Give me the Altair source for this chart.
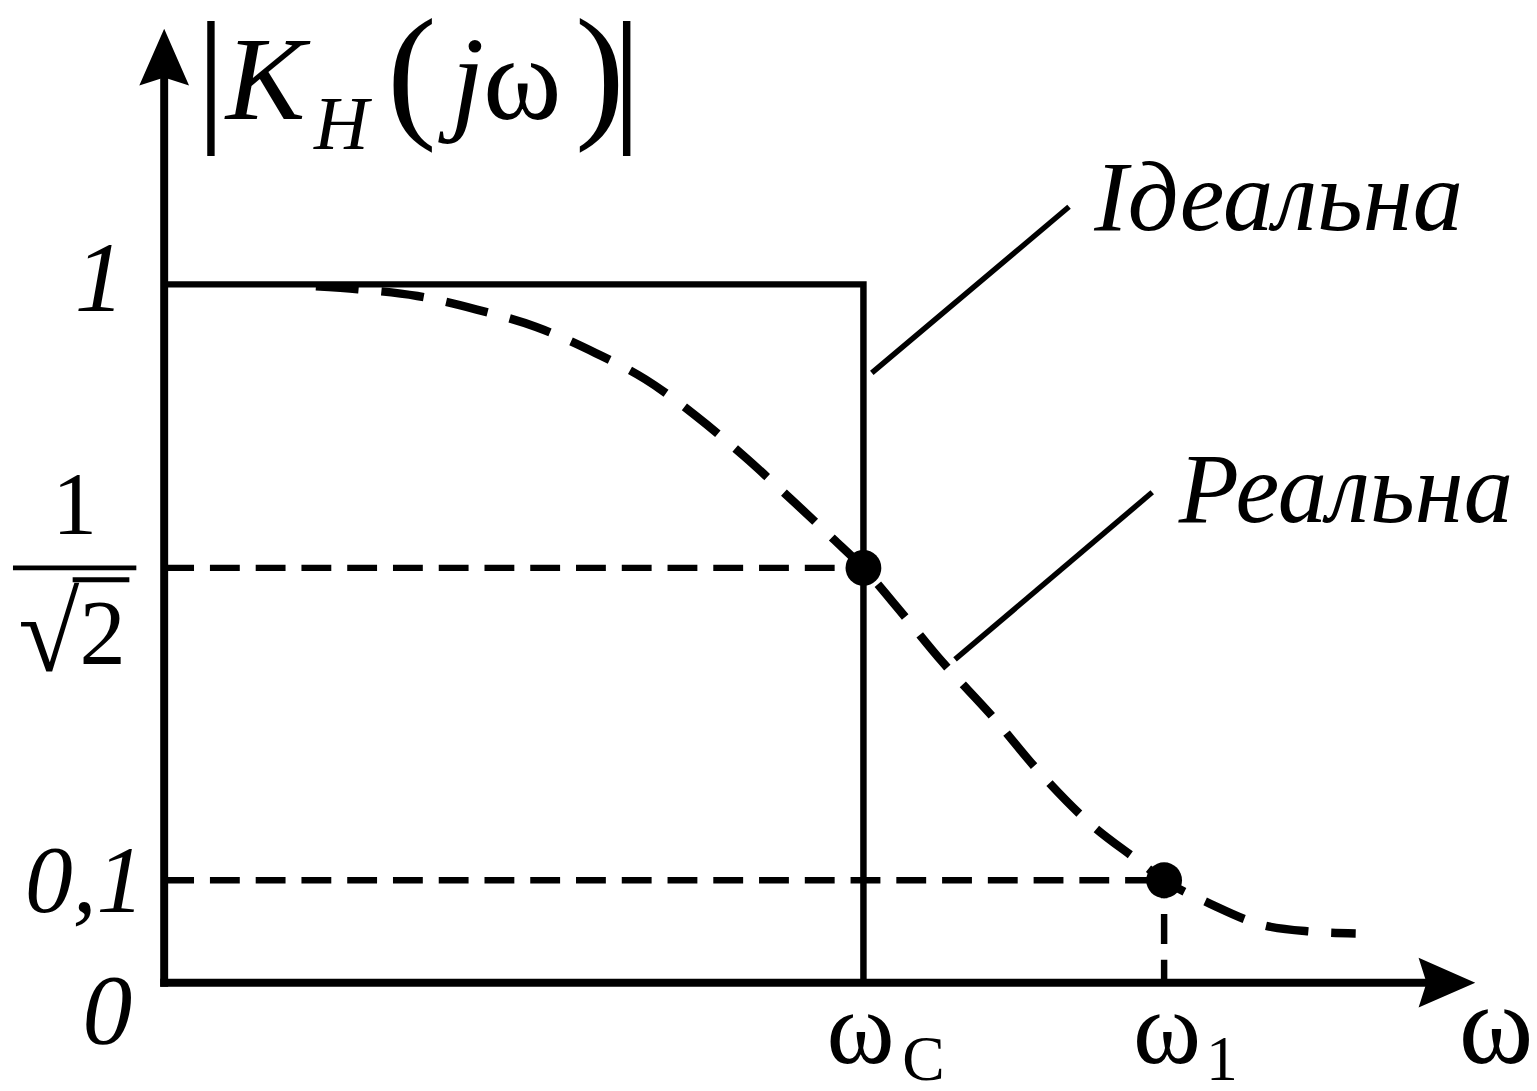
import altair as alt
import pandas as pd

# ---------------- data ----------------
# frequency axis in units of the cut-off frequency (omega_c = 1)
OMEGA_C = 1.0
OMEGA_1 = 1.43
W_END = 1.875         # end of the omega axis (arrow tip)
K_TOP = 1.4           # end of the |K| axis (arrow tip)

# the drawing is schematic: the K axis is piecewise, these are its marked levels
k_levels = [0.0, 0.1, 0.7071, 1.0, K_TOP]
k_pixels = [977, 874, 560, 275, 18]   # scale range (plot px) for those levels

# ideal response
ideal_w = [0.0, 1.0, 1.0]
ideal_k = [1.0, 1.0, 0.0]

# real response (dashed curve)
real_w = [0.217, 0.277, 0.362, 0.447, 0.532, 0.617, 0.688, 0.759, 0.830, 0.901,
          0.957, 1.000, 1.043, 1.113, 1.184, 1.255, 1.326, 1.390, 1.430, 1.496,
          1.567, 1.638, 1.704]
real_k = [0.998, 0.995, 0.988, 0.974, 0.956, 0.929, 0.902, 0.865, 0.822, 0.775,
          0.737, 0.7071, 0.639, 0.524, 0.419, 0.305, 0.208, 0.141, 0.100, 0.077,
          0.057, 0.050, 0.048]

# marked points
dot_w = [OMEGA_C, OMEGA_1]
dot_k = [0.7071, 0.1]

# leader lines of the annotations (start w, start k, end w, end k)
lead_w = [1.012, 1.131]
lead_k = [0.9085, 0.5292]
lead_w2 = [1.294, 1.413]
lead_k2 = [1.1214, 0.7852]

FONT = "Liberation Serif"
W = 1318
H = 977

xs = alt.Scale(domain=[0, W_END], nice=False, zero=False)
ys = alt.Scale(domain=k_levels, range=k_pixels, nice=False, zero=False)


def X(f):
    return alt.X(f, type="quantitative", scale=xs, axis=None)


def Y(f):
    return alt.Y(f, type="quantitative", scale=ys, axis=None)


def X2(f):
    return alt.X2(f)


def Y2(f):
    return alt.Y2(f)


layers = []

# axes
axes_df = pd.DataFrame({"x": [0.0, 0.0], "y": [0.0, 0.0],
                        "x2": [0.0, 1.81], "y2": [1.33, 0.0]})
layers.append(alt.Chart(axes_df).mark_rule(color="black", strokeWidth=8, strokeCap="square")
              .encode(x=X("x"), y=Y("y"), x2=X2("x2"), y2=Y2("y2")))

# arrow heads
up_arrow = "M0,0 L0.877,2 L0,1.72 L-0.877,2 Z"
right_arrow = "M0,0 L-2,-0.877 L-1.72,0 L-2,0.877 Z"
layers.append(alt.Chart(pd.DataFrame({"x": [0.0], "y": [K_TOP]}))
              .mark_point(shape=up_arrow, size=3249, filled=True, color="black", opacity=1, strokeWidth=0)
              .encode(x=X("x"), y=Y("y")))
layers.append(alt.Chart(pd.DataFrame({"x": [W_END], "y": [0.0]}))
              .mark_point(shape=right_arrow, size=3249, filled=True, color="black", opacity=1, strokeWidth=0)
              .encode(x=X("x"), y=Y("y")))

# dashed guides
guides_df = pd.DataFrame({"x": [0.0, 0.0], "y": [0.7071, 0.1],
                          "x2": [OMEGA_C, OMEGA_1], "y2": [0.7071, 0.1]})
layers.append(alt.Chart(guides_df).mark_rule(color="black", strokeWidth=6.5, strokeDash=[30, 16])
              .encode(x=X("x"), y=Y("y"), x2=X2("x2"), y2=Y2("y2")))
vguide_df = pd.DataFrame({"x": [OMEGA_1], "y": [0.0], "x2": [OMEGA_1], "y2": [0.1]})
layers.append(alt.Chart(vguide_df).mark_rule(color="black", strokeWidth=6.5, strokeDash=[30, 16],
                                             strokeDashOffset=7)
              .encode(x=X("x"), y=Y("y"), x2=X2("x2"), y2=Y2("y2")))

# ideal response
ideal_df = pd.DataFrame({"w": ideal_w, "k": ideal_k, "o": list(range(len(ideal_w)))})
layers.append(alt.Chart(ideal_df).mark_line(color="black", strokeWidth=6.5, strokeJoin="miter")
              .encode(x=X("w"), y=Y("k"), order="o:Q"))

# real response
real_df = pd.DataFrame({"w": real_w, "k": real_k, "o": list(range(len(real_w)))})
layers.append(alt.Chart(real_df).mark_line(color="black", strokeWidth=8.5, strokeDash=[43, 23],
                                           interpolate="monotone")
              .encode(x=X("w"), y=Y("k"), order="o:Q"))

# dots
dot_df = pd.DataFrame({"w": dot_w, "k": dot_k})
layers.append(alt.Chart(dot_df).mark_circle(color="black", size=1296, opacity=1)
              .encode(x=X("w"), y=Y("k")))

# leader lines
lead_df = pd.DataFrame({"x": lead_w, "y": lead_k, "x2": lead_w2, "y2": lead_k2})
layers.append(alt.Chart(lead_df).mark_rule(color="black", strokeWidth=5.5)
              .encode(x=X("x"), y=Y("y"), x2=X2("x2"), y2=Y2("y2")))


def txt(s, x, y, size, italic=False, align="center"):
    props = dict(x=x, y=y, fontSize=size, font=FONT, align=align, baseline="alphabetic", color="black")
    if italic:
        props["fontStyle"] = "italic"
    return alt.Chart(pd.DataFrame({"t": [s]})).mark_text(**props).encode(text="t:N")


def ylab(s, level, x, dy, size, italic=True, align="right"):
    props = dict(x=x, dy=dy, fontSize=size, font=FONT, align=align, baseline="alphabetic", color="black")
    if italic:
        props["fontStyle"] = "italic"
    return (alt.Chart(pd.DataFrame({"t": [s], "k": [level]})).mark_text(**props)
            .encode(y=Y("k"), text="t:N"))


def xlab(s, w, dx, dy, size, align="center"):
    props = dict(dx=dx, dy=dy, fontSize=size, font=FONT, align=align, baseline="alphabetic", color="black")
    return (alt.Chart(pd.DataFrame({"t": [s], "w": [w], "k": [0.0]})).mark_text(**props)
            .encode(x=X("w"), y=Y("k"), text="t:N"))


# title |K_H(jω)|
layers += [
    txt("|", 47, 114, 150),
    txt("K", 102, 109, 120, italic=True),
    txt("H", 178, 139, 76, italic=True),
    txt("(", 249, 111, 150),
    txt("j", 305, 109, 120, italic=True),
    txt("ω", 360, 109, 120),
    txt(")", 438, 111, 150),
    txt("|", 465, 114, 150),
]

# annotations
layers += [
    txt("Ідеальна", 935, 220, 101, italic=True, align="left"),
    txt("Реальна", 1020, 514, 99, italic=True, align="left"),
]

# y labels
layers += [
    ylab("1", 1.0, -40, 27, 100),
    ylab("0,1", 0.1, -20, 32, 96),
    ylab("0", 0.0, -32, 61, 100),
    ylab("1", 0.7071, -90, -35, 90, italic=False, align="center"),
    ylab("√", 0.7071, -116, 104, 112, italic=False, align="center"),
    ylab("2", 0.7071, -62, 97, 93, italic=False, align="center"),
]
frac_df = pd.DataFrame({"k": [0.7071]})
layers.append(alt.Chart(frac_df).mark_rule(color="black", strokeWidth=5, x=-152, x2=-28)
              .encode(y=Y("k")))
layers.append(alt.Chart(frac_df).mark_rule(color="black", strokeWidth=5, x=-92, x2=-35, yOffset=12)
              .encode(y=Y("k")))

# x labels
layers += [
    xlab("ω", OMEGA_C, -3, 81, 104),
    xlab("C", OMEGA_C, 39, 98, 64, align="left"),
    xlab("ω", OMEGA_1, 3, 81, 104),
    xlab("1", OMEGA_1, 42, 98, 64, align="left"),
    xlab("ω", W_END, 21, 81, 114),
]

chart = (alt.layer(*layers)
         .properties(width=W, height=H,
                     autosize=alt.AutoSizeParams(type="none"),
                     padding={"left": 157, "top": 0, "right": 54, "bottom": 98},
                     background="white")
         .configure_view(strokeWidth=0))

chart.save("out.html", embed_options={"renderer": "svg", "actions": False})
